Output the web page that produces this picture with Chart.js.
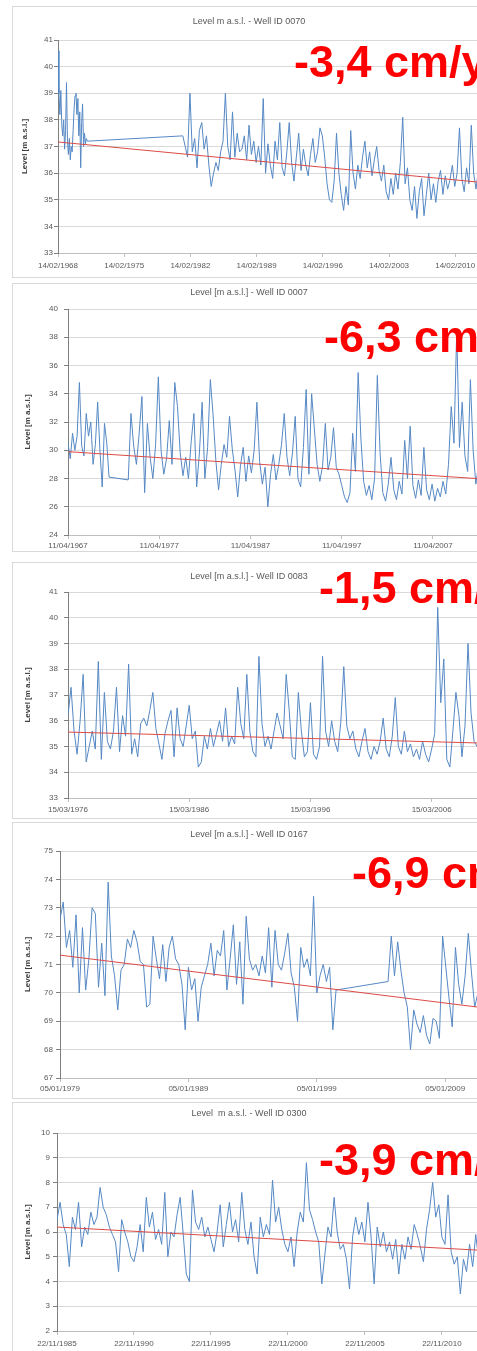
<!DOCTYPE html>
<html>
<head>
<meta charset="utf-8">
<script src="https://cdn.jsdelivr.net/npm/chart.js@4.4.1/dist/chart.umd.min.js"></script>
<style>
  html, body { margin: 0; padding: 0; background: #fff; overflow: hidden; width: 477px; height: 1351px; position: relative; }
  .panel { position: absolute; left: 12px; width: 478px; border: 1px solid #d9d9d9; background: #fff; }
  .panel canvas { display: block; }
  .rate { position: absolute; font: bold 45px "Liberation Sans", Arial, sans-serif; line-height: 45px; color: #ff0000; white-space: nowrap; }
</style>
</head>
<body>
<script>
// ---- data (x = decimal year, y = level m a.s.l.) ----

// Well 0070
const p1Title = 'Level m a.s.l. - Well ID 0070';
const p1Rate = '-3,4 cm/year';
const p1XLabels = ['14/02/1968', '14/02/1975', '14/02/1982', '14/02/1989', '14/02/1996', '14/02/2003', '14/02/2010'];
const p1YTicks = [33, 41, 1];
const p1StartA = 1968.0, p1StepA = 0.1;
const p1LevelsA = [40.6, 39.0, 38.2, 39.1, 37.8, 37.4, 38.0, 36.9, 37.6, 39.4, 37.2, 36.7, 37.3, 36.5, 37.0, 36.8,
  37.6, 38.4, 38.9, 39.0, 38.2, 38.8, 37.4, 38.3, 36.2, 37.9, 38.6, 37.0, 37.5, 37.1, 37.3, 37.2];
const p1StartB = 1981.2, p1StepB = 0.25;
const p1LevelsB = [37.4, 37.0, 36.6, 39.0, 36.8, 37.3, 36.2, 37.6,
  37.9, 36.9, 37.4, 36.3, 35.5, 36.0, 36.4, 36.1, 36.8, 37.2, 39.0, 37.0, 36.5, 38.3, 36.6, 37.5, 36.8,
  36.9, 37.4, 36.5, 37.8, 36.7, 37.2, 36.4, 37.0, 36.3, 38.8,
  36.0, 37.1, 36.3, 35.8, 37.2, 36.5, 37.9, 36.2, 35.9, 36.8, 37.9, 36.4, 35.7, 36.6, 37.5, 36.1, 36.9, 36.3,
  35.9, 36.7, 37.3, 36.4, 36.8, 37.7, 37.4, 36.6, 35.6, 35.0,
  34.9, 35.7, 37.5, 36.0, 35.2, 34.6, 35.5, 34.8, 37.6, 36.0, 35.4, 36.3, 35.8, 36.6, 37.2, 36.2, 36.8, 35.9,
  36.5, 37.0, 36.1, 35.7, 36.3, 35.3, 35.0, 35.8, 35.2, 36.0, 35.4, 36.4,
  38.1, 35.6, 36.2, 35.0, 34.6, 35.5, 34.3, 35.3, 35.8, 34.4, 35.2, 36.0, 35.0, 35.6, 34.9, 35.7, 36.1, 35.2,
  35.9, 35.4, 35.75, 36.3, 35.5, 36.0, 37.7, 35.8, 35.3, 36.2, 35.6, 37.8, 36.0, 35.4, 36.1,
  35.8, 35.2, 36.0, 35.5, 36.4, 35.3, 35.9, 35.6, 36.2, 35.4, 35.8, 35.5];
const p1Trend = [[1968, 37.17], [2014, 35.61]];

// Well 0007
const p2Title = 'Level [m a.s.l.] - Well ID 0007';
const p2Rate = '-6,3 cm/year';
const p2XLabels = ['11/04/1967', '11/04/1977', '11/04/1987', '11/04/1997', '11/04/2007'];
const p2YTicks = [24, 40, 2];
const p2StartA = 1967.0, p2StepA = 0.25;
const p2LevelsA = [30.5, 29.4, 31.2, 30.0, 31.0, 34.8, 30.3, 29.6, 32.6, 31.0, 32.0, 29.0, 30.4, 33.4, 30.0, 27.4,
  31.9, 30.5, 28.1];
const p2StartB = 1973.6, p2StepB = 0.3;
const p2LevelsB = [27.9, 32.6, 30.3, 29.0, 31.2, 33.8, 27.0, 31.9, 29.5, 28.0, 30.4, 35.2, 30.0, 28.3, 29.4, 32.1,
  29.0, 34.8, 33.1, 29.8, 28.2, 29.5, 28.0, 30.6, 32.6, 27.4, 29.8, 33.4, 28.0, 30.2, 35.0, 32.5,
  29.3, 27.2, 29.0, 30.4, 29.5, 32.4, 30.1, 28.6, 26.7, 28.9, 30.2, 27.8, 29.6, 28.4, 30.0, 33.4,
  29.2, 27.6, 28.8, 26.0, 28.3, 29.7, 27.9, 29.0, 30.4, 32.6, 29.5, 28.2, 29.8, 32.4, 28.0, 27.4,
  30.2, 34.3, 28.3, 34.0, 31.5, 29.0, 27.8, 28.9, 31.9, 28.6, 29.5, 31.6, 28.8, 28.3, 27.5, 26.7,
  26.3, 27.0, 31.2, 28.5, 35.5, 30.8, 27.8, 26.8, 27.5, 26.5, 28.0, 35.3, 29.8, 27.0, 26.4, 27.6,
  29.5, 27.2, 26.5, 27.8, 26.9, 30.7, 28.0, 31.7, 27.5, 26.6, 27.9, 26.8, 30.2, 27.2, 26.5, 27.6,
  26.4, 27.3, 26.7, 27.8, 26.9, 29.0, 33.1, 30.5, 38.5, 30.2, 33.4, 29.6, 28.5, 35.0, 30.0, 27.6,
  29.0, 31.5, 28.2, 27.4, 30.6, 28.8, 27.9, 29.6, 28.3, 27.7];
const p2Trend = [[1967, 29.9], [2015, 27.86]];

// Well 0083
const p3Title = 'Level [m a.s.l.] - Well ID 0083';
const p3Rate = '-1,5 cm/year';
const p3XLabels = ['15/03/1976', '15/03/1986', '15/03/1996', '15/03/2006'];
const p3YTicks = [33, 41, 1];
const p3Start = 1976.0, p3Step = 0.25;
const p3Levels = [36.2, 37.3, 35.6, 34.7, 36.0, 37.8, 34.4, 35.0, 35.6, 34.9, 38.3, 34.5, 37.1, 35.2, 34.9, 35.6,
  37.3, 34.8, 36.2, 35.4, 38.2, 34.7, 35.3, 34.6, 35.9, 36.1, 35.8, 36.4, 37.1, 35.7, 35.1, 34.5,
  35.5, 36.0, 36.4, 34.6, 36.5, 35.3, 35.0, 35.8, 36.6, 35.3, 35.6, 34.2, 34.4, 35.4, 34.9, 35.7,
  35.0, 35.5, 36.0, 35.2, 36.5, 35.0, 35.4, 35.1, 37.3, 35.9, 35.3, 37.8, 35.6, 34.8, 34.6, 38.5,
  35.9, 35.0, 35.4, 34.9, 35.6, 36.3, 35.8, 35.3, 37.8, 36.4, 34.6, 34.5, 37.1, 35.6, 34.6, 34.8,
  36.7, 34.7, 34.5, 35.0, 38.5, 35.6, 35.0, 36.0, 35.2, 34.8, 35.9, 38.1, 35.8, 35.3, 35.6, 34.9,
  34.6, 35.2, 35.7, 34.8, 34.5, 35.0, 34.7, 35.2, 36.1, 34.9, 34.6, 35.4, 36.9, 35.0, 34.7, 35.6,
  34.8, 35.1, 34.6, 34.9, 34.5, 35.2, 34.7, 34.4, 34.9, 35.5, 40.4, 36.7, 38.4, 34.5, 34.2, 35.6,
  37.1, 36.2, 34.6, 35.8, 39.0, 36.3, 35.2, 35.0, 36.0, 35.3, 34.8, 35.9, 37.0, 35.4, 34.9, 35.5, 36.2];
const p3Trend = [[1976, 35.56], [2012, 35.11]];

// Well 0167
const p4Title = 'Level [m a.s.l.] - Well ID 0167';
const p4Rate = '-6,9 cm/year';
const p4XLabels = ['05/01/1979', '05/01/1989', '05/01/1999', '05/01/2009'];
const p4YTicks = [67, 75, 1];
const p4StartA = 1979.0, p4StepA = 0.25;
const p4LevelsA = [72.6, 73.2, 71.6, 72.2, 70.9, 72.75, 70.0, 72.3, 70.1, 71.2, 73.0, 72.8, 70.2, 71.75, 69.9, 73.9,
  71.3, 70.6, 69.4, 70.8, 71.0, 71.9, 71.6, 72.2, 71.8, 71.1, 71.0, 69.5, 69.6, 72.0, 71.2, 70.5,
  71.7, 70.4, 71.6, 72.0, 71.2, 71.0, 70.3, 68.7, 70.9, 70.1, 70.5, 69.0, 70.2, 70.6, 71.0, 71.75,
  70.6, 71.5, 71.3, 72.2, 70.1, 71.2, 72.4, 70.3, 71.8, 69.6, 72.7, 71.2, 70.8, 71.0, 70.6, 71.3,
  70.7, 72.3, 70.2, 72.2, 71.0, 70.8, 71.4, 72.1, 70.7, 70.2, 69.0, 71.6, 70.9, 71.2, 70.6, 73.4,
  70.0, 70.6, 71.0, 70.4, 70.9, 68.7, 70.1];
const p4StartB = 2004.55, p4StepB = 0.25;
const p4LevelsB = [70.4, 72.0, 70.6, 71.8, 70.8, 70.0, 69.5, 68.0, 69.4, 68.9, 68.6, 69.2, 68.5, 68.2, 69.1, 69.0,
  68.4, 72.0, 70.9, 69.8, 68.8, 71.6, 70.3, 69.6, 70.6, 72.1, 70.7, 69.5, 70.0, 71.2, 69.3, 70.5,
  68.9, 69.8, 71.0, 69.6, 70.2];
const p4Trend = [[1979, 71.33], [2014, 69.36]];

// Well 0300
const p5Title = 'Level  m a.s.l. - Well ID 0300';
const p5Rate = '-3,9 cm/year';
const p5XLabels = ['22/11/1985', '22/11/1990', '22/11/1995', '22/11/2000', '22/11/2005', '22/11/2010'];
const p5YTicks = [2, 10, 1];
const p5Start = 1985.0, p5Step = 0.2;
const p5Levels = [6.5, 7.2, 6.3, 5.9, 4.6, 6.6, 6.1, 7.2, 5.4, 6.2, 5.9, 6.8, 6.3, 6.6, 7.8, 7.0,
  6.7, 6.2, 5.9, 5.6, 4.4, 6.5, 6.0, 5.6, 5.0, 4.8, 5.4, 6.3, 5.2, 7.4, 6.2, 6.8,
  5.7, 6.1, 5.5, 7.6, 5.0, 6.0, 5.8, 6.7, 7.4, 5.9, 4.3, 4.0, 7.7, 6.4, 6.1, 6.6,
  5.8, 6.2, 5.7, 5.2, 6.0, 7.1, 5.4, 6.3, 7.2, 6.0, 6.5, 5.6, 7.6, 6.1, 5.5, 6.4,
  5.0, 4.3, 6.6, 5.8, 6.3, 5.9, 8.1, 6.4, 7.0, 6.1, 5.5, 5.2, 5.8, 4.6, 6.0, 6.8,
  6.4, 8.8, 6.9, 6.5, 6.0, 5.6, 3.9, 5.1, 6.2, 5.8, 7.4, 6.0, 5.3, 5.5, 4.9, 3.7,
  5.8, 6.6, 5.9, 6.4, 5.6, 7.2, 5.8, 3.9, 6.2, 5.4, 6.0, 5.2, 5.6, 4.9, 5.7, 4.3,
  5.5, 4.9, 5.8, 5.3, 6.3, 5.9, 5.4, 4.8, 6.1, 6.9, 8.0, 6.6, 7.1, 5.8, 5.5, 7.5,
  5.2, 4.7, 5.0, 3.5, 4.9, 4.4, 5.5, 4.6, 5.9, 4.8, 5.6, 4.4, 5.3, 6.1, 4.9, 5.4, 4.6];
const p5Trend = [[1985, 6.2], [2014, 5.21]];

// ---- helpers ----
function series(start, step, values) {
  return values.map((v, i) => ({ x: +(start + i * step).toFixed(3), y: v }));
}
function trendPoints(t) {
  return t.map(([x, y]) => ({ x, y }));
}

Chart.defaults.font.family = '"Liberation Sans", Arial, sans-serif';

// layout of each panel in page pixels (canvas sits 1px inside the border)
const panels = [
  { top: 6, height: 270, titleY: 22, plotTop: 40, plotBottom: 253, plotLeft: 58, xLabelY: 266, yTitleX: 25, yPad: 1,
    xMax: 2013.15, title: p1Title, xLabels: p1XLabels, yTicks: p1YTicks, trend: p1Trend,
    points: series(p1StartA, p1StepA, p1LevelsA).concat(series(p1StartB, p1StepB, p1LevelsB)),
    rate: p1Rate, rateX: 294, rateBase: 77 },
  { top: 283, height: 267, titleY: 293, plotTop: 309, plotBottom: 535, plotLeft: 68, xLabelY: 546, yTitleX: 28, yPad: 6,
    xMax: 2012.7, title: p2Title, xLabels: p2XLabels, yTicks: p2YTicks, trend: p2Trend,
    points: series(p2StartA, p2StepA, p2LevelsA).concat(series(p2StartB, p2StepB, p2LevelsB)),
    rate: p2Rate, rateX: 324, rateBase: 352 },
  { top: 562, height: 255, titleY: 577, plotTop: 592, plotBottom: 798, plotLeft: 68, xLabelY: 810, yTitleX: 28, yPad: 6,
    xMax: 2010.4, title: p3Title, xLabels: p3XLabels, yTicks: p3YTicks, trend: p3Trend,
    points: series(p3Start, p3Step, p3Levels),
    rate: p3Rate, rateX: 319, rateBase: 603 },
  { top: 822, height: 275, titleY: 835, plotTop: 851, plotBottom: 1078, plotLeft: 60, xLabelY: 1089, yTitleX: 28, yPad: 3,
    xMax: 2012.1, title: p4Title, xLabels: p4XLabels, yTicks: p4YTicks, trend: p4Trend,
    points: series(p4StartA, p4StepA, p4LevelsA).concat(series(p4StartB, p4StepB, p4LevelsB)),
    rate: p4Rate, rateX: 352, rateBase: 888 },
  { top: 1102, height: 262, titleY: 1114, plotTop: 1133, plotBottom: 1331, plotLeft: 57, xLabelY: 1344, yTitleX: 28, yPad: 3,
    xMax: 2012.8, title: p5Title, xLabels: p5XLabels, yTicks: p5YTicks, trend: p5Trend,
    points: series(p5Start, p5Step, p5Levels),
    rate: p5Rate, rateX: 319, rateBase: 1175 },
];

const CANVAS_W = 478;
const TICK_LEN = 4;

panels.forEach(p => {
  const div = document.createElement('div');
  div.className = 'panel';
  div.style.top = p.top + 'px';
  div.style.height = p.height + 'px';
  const canvas = document.createElement('canvas');
  canvas.width = CANVAS_W;
  canvas.height = p.height;
  div.appendChild(canvas);
  document.body.appendChild(div);

  const y0 = p.top + 1, x0 = 13;
  const titleLocal = p.titleY - y0;
  const plotTopLocal = p.plotTop - y0;
  const plotBottomLocal = p.plotBottom - y0;
  const titleLine = 9 * 1.2;
  const tickYears = p.xLabels.map(s => +s.slice(-4));

  new Chart(canvas.getContext('2d'), {
    type: 'line',
    data: {
      datasets: [
        { data: trendPoints(p.trend), borderColor: '#dc4b46', borderWidth: 1, pointRadius: 0 },
        { data: p.points, borderColor: '#5588c4', borderWidth: 1, pointRadius: 0, tension: 0 },
      ],
    },
    options: {
      responsive: false,
      animation: false,
      devicePixelRatio: 1,
      events: [],
      layout: { padding: { top: 0, left: 0, right: 6, bottom: 0 } },
      plugins: {
        legend: { display: false },
        tooltip: { enabled: false },
        title: {
          display: true,
          text: p.title,
          color: '#595959',
          font: { size: 9, weight: 'normal' },
          padding: { top: titleLocal - titleLine / 2, bottom: plotTopLocal - titleLocal - titleLine / 2 },
        },
      },
      scales: {
        x: {
          type: 'linear',
          min: tickYears[0],
          max: p.xMax,
          afterBuildTicks: s => { s.ticks = tickYears.map(v => ({ value: v })); },
          afterFit: s => { s.height = p.height - plotBottomLocal; },
          ticks: {
            autoSkip: false,
            maxRotation: 0,
            padding: p.xLabelY - p.plotBottom - TICK_LEN - 4.8,
            color: '#595959',
            font: { size: 8 },
            callback: v => p.xLabels[tickYears.indexOf(v)] || '',
          },
          grid: { drawOnChartArea: false, tickLength: TICK_LEN, color: '#bfbfbf' },
          border: { color: '#bfbfbf' },
        },
        y: {
          min: p.yTicks[0],
          max: p.yTicks[1],
          afterFit: s => { s.width = p.plotLeft - x0; },
          ticks: { stepSize: p.yTicks[2], padding: p.yPad, color: '#595959', font: { size: 8 } },
          title: {
            display: true,
            text: 'Level [m a.s.l.]',
            color: '#404040',
            font: { size: 8, weight: 'bold' },
            padding: { top: p.yTitleX - x0 - 4.8, bottom: 0 },
          },
          grid: { color: '#d9d9d9', tickLength: TICK_LEN, tickColor: '#7f7f7f' },
          border: { color: '#7f7f7f' },
        },
      },
    },
  });

  const rate = document.createElement('div');
  rate.className = 'rate';
  rate.textContent = p.rate;
  rate.style.left = p.rateX + 'px';
  rate.style.top = (p.rateBase - 38) + 'px';
  document.body.appendChild(rate);
});
</script>
</body>
</html>
